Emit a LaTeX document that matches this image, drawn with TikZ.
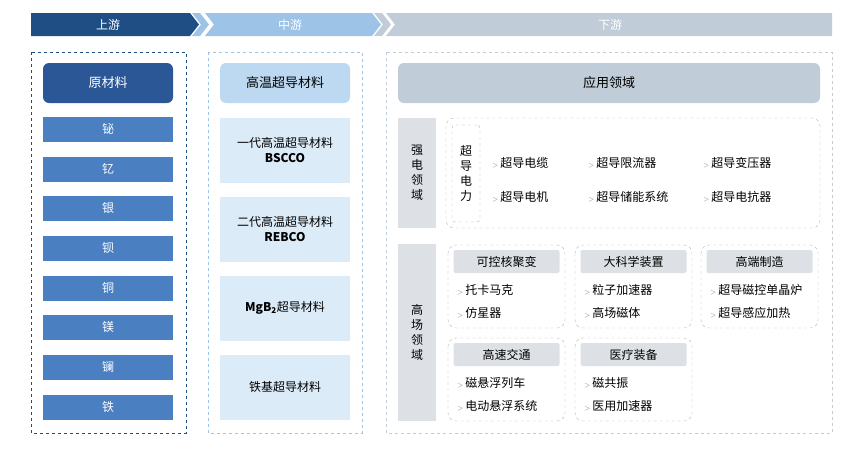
\documentclass[tikz,border=0pt]{standalone}
\usepackage{fontspec}
\newfontfamily\cjk{Noto Sans CJK SC}
\usetikzlibrary{positioning}
\definecolor{navy}{HTML}{1F4E85}
\definecolor{rawblue}{HTML}{2B5797}
\definecolor{midblue}{HTML}{4A7FC1}
\definecolor{sky}{HTML}{9DC3E6}
\definecolor{paleblue}{HTML}{DCEBF8}
\definecolor{lightblue}{HTML}{BCD9F1}
\definecolor{steel}{HTML}{C0CDD8}
\definecolor{panel}{HTML}{DDE1E5}
\tikzset{
  hdr/.style={text=white, font=\cjk\fontsize{12}{14}\selectfont},
  col/.style={draw, dashed, thick},
  title box/.style={rounded corners=6pt, minimum height=40pt, font=\cjk\fontsize{13}{15}\selectfont, inner sep=0pt},
  elem/.style={fill=midblue, text=white, minimum width=130pt, minimum height=25pt, font=\cjk\fontsize{12}{14}\selectfont, inner sep=0pt},
  mat/.style={fill=paleblue, minimum width=130pt, minimum height=65pt, font=\cjk\fontsize{12}{15}\selectfont, align=center, inner sep=0pt},
  grp/.style={draw=gray!60, dashed, rounded corners=8pt},
  sub/.style={fill=panel, minimum width=106pt, minimum height=23pt, font=\cjk\fontsize{12}{14}\selectfont, inner sep=0pt, rounded corners=2pt},
  item/.style={font=\cjk\fontsize{12}{14}\selectfont, anchor=west, inner sep=0pt},
  side/.style={fill=panel, minimum width=38pt, font=\cjk\fontsize{12}{15}\selectfont, align=center},
}
\newcommand{\arr}{{\color{gray}\scriptsize$>$}\,}
\begin{document}
\begin{tikzpicture}[x=1pt,y=-1pt]
\useasboundingbox (0,0) rectangle (861,456);
% header band
\fill[navy] (31,13) -- (190,13) -- (199,24.5) -- (190,36) -- (31,36) -- cycle;
\fill[sky] (192,13) -- (200,13) -- (209,24.5) -- (200,36) -- (192,36) -- (201,24.5) -- cycle;
\fill[sky] (205,13) -- (372,13) -- (381,24.5) -- (372,36) -- (205,36) -- (214,24.5) -- cycle;
\fill[steel] (374,13) -- (382,13) -- (391,24.5) -- (382,36) -- (374,36) -- (383,24.5) -- cycle;
\fill[steel] (386,13) -- (832,13) -- (832,36) -- (386,36) -- (395,24.5) -- cycle;
\node[hdr] (up) at (108,24.5) {上游};
\node[hdr] (mid) at (290,24.5) {中游};
\node[hdr] (down) at (610,24.5) {下游};
% columns
\draw[col, navy] (31,52) rectangle (186,433);
\draw[col, sky] (208,52) rectangle (362,433);
\draw[col, steel] (386,52) rectangle (832,433);
% upstream
\node[title box, fill=rawblue, text=white, minimum width=130pt] (raw) at (108,83) {原材料};
\foreach \n/\y in {铋/129,钇/169,银/208,钡/248,铜/288,镁/327,镧/367,铁/407}
  \node[elem] (e\y) at (108,\y) {\n};
% midstream
\node[title box, fill=lightblue, minimum width=130pt] (hts) at (285,83) {高温超导材料};
\node[mat] (gen1) at (285,150) {一代高温超导材料\\\textbf{BSCCO}};
\node[mat] (gen2) at (285,229) {二代高温超导材料\\\textbf{REBCO}};
\node[mat] (mgb) at (285,308) {\textbf{MgB\textsubscript{2}}超导材料};
\node[mat] (iron) at (285,387) {铁基超导材料};
% downstream
\node[title box, fill=steel, minimum width=422pt] (app) at (609,83) {应用领域};
\node[side, minimum height=110pt] (strong) at (417,173) {强\\电\\领\\域};
\node[side, minimum height=177pt] (field) at (417,332.5) {高\\场\\领\\域};
\draw[grp] (446,118) rectangle (820,228);
\node[draw=gray!60, dashed, rounded corners=3pt, minimum width=28pt, minimum height=97pt, font=\cjk\fontsize{12}{15}\selectfont, align=center] (power) at (466,173.5) {超\\导\\电\\力};
\foreach \t/\x/\y in {超导电缆/492/163,超导限流器/588/163,超导变压器/703/163,
                     超导电机/492/197,超导储能系统/588/197,超导电抗器/703/197}
  \node[item] at (\x,\y) {\arr\t};
% high field groups
\foreach \t/\x/\y/\a/\b in {可控核聚变/448/245/托卡马克/仿星器,
                             大科学装置/575/245/粒子加速器/高场磁体,
                             高端制造/701/245/超导磁控单晶炉/超导感应加热,
                             高速交通/448/338/磁悬浮列车/电动悬浮系统,
                             医疗装备/575/338/磁共振/医用加速器}{
  \draw[grp] (\x,\y) rectangle ++(117,83);
  \node[sub] at (\x+58.5,\y+16.5) {\t};
  \node[item] at (\x+9,\y+45) {\arr\a};
  \node[item] at (\x+9,\y+68) {\arr\b};
}
\end{tikzpicture}
\end{document}
